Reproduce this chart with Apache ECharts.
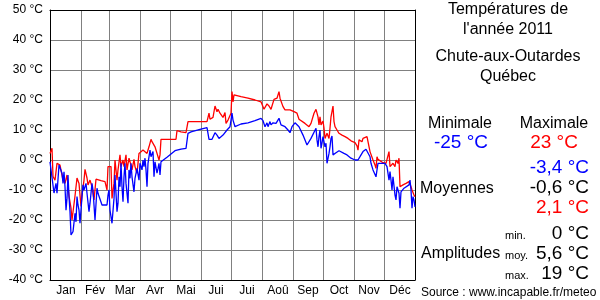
<!DOCTYPE html>
<html><head><meta charset="utf-8">
<script src="https://cdn.jsdelivr.net/npm/echarts@6/dist/echarts.min.js"></script>
<style>html,body{margin:0;padding:0;background:#fff}#c{width:600px;height:300px}</style>
</head><body><div id="c"></div>
<script>
// Month labels and month boundaries (day of year)
const months = ['Jan','Fév','Mar','Avr','Mai','Jui','Jui','Aoû','Sep','Oct','Nov','Déc'];
const monthStarts = [0,31,59,90,120,151,181,212,243,273,304,334,365];

// Daily maximum temperatures [day of year, °C] (gaps are joined)
const tmax = [[0,2.2],[2,3.9],[3,-5.5],[5,-6.7],[7,-1.1],[10,-1.7],[11,-2.2],[13,-6.7],[15,-7.8],[17,-5],[19,-12],[21,-16],[22,-20],[24,-20],[25,-12],[27,-6],[29,-7.8],[31,-15.5],[32,-11.7],[34,-6.7],[35,-3.1],[37,-6],[38,-8.3],[40,-6.7],[42,-8.9],[44,-13.3],[46,-6.4],[48,-6.7],[51,-6.9],[55,-7.2],[57,-10],[58,-2.2],[61,-2.2],[62,-12.8],[64,-7.8],[65,0],[67,-6.7],[68,-3.3],[70,1.7],[71,-2.2],[73,0],[74,-2.2],[76,1.7],[77,-3.3],[79,0.6],[81,-1.7],[82,-3.3],[84,0.2],[85,-2.2],[87,-4.4],[89,2.2],[90,2.8],[91,1.7],[93,3.3],[94,2.8],[95,3.9],[97,2.2],[99,4.4],[101,6.9],[102,6.1],[103,6.7],[105,4.4],[106,3.9],[107,2.2],[109,0],[110,1.7],[111,6.9],[126,6.9],[127,9.8],[131,9.4],[136,9.1],[137,9.4],[138,12.8],[157,12.8],[159,15.6],[160,13.6],[162,13.9],[163,14.2],[165,18],[167,16.1],[168,16.9],[170,15.6],[171,15.8],[173,14.2],[175,15.8],[176,12.2],[178,13.3],[180,13.1],[181,15.6],[182,22.8],[183,19.4],[184,21.7],[185,21.7],[191,21.1],[198,20.6],[205,20],[211,19.4],[213,18.9],[214,16.9],[216,16.9],[217,18.7],[219,18],[221,16.9],[222,16.7],[224,20.2],[225,20.6],[227,20.6],[228,21.7],[229,22.8],[230,20.6],[232,20],[233,17.8],[235,16.7],[237,16.3],[240,16.7],[241,16.1],[244,16.1],[246,15.6],[247,15.6],[249,13.6],[251,13.3],[255,12.2],[259,11.1],[261,12.2],[264,15.6],[266,16.9],[268,14.4],[269,11.7],[270,14.4],[271,11.7],[273,13],[274,10.6],[275,7.2],[277,8.9],[279,7.2],[280,10.6],[281,14.4],[283,18],[284,12.8],[285,11.1],[287,10],[289,8.9],[291,9.1],[292,8.3],[295,7.8],[298,7.2],[301,6.4],[305,5.8],[307,4.7],[308,3.3],[309,6.7],[311,6.9],[312,6.1],[313,7.2],[315,6.9],[317,7.8],[318,6.1],[320,2.8],[321,2.2],[323,0],[325,-1.7],[326,-2.8],[327,1.1],[328,0.2],[330,0],[333,-0.9],[336,-1.1],[337,-0.6],[339,2.8],[340,-2.2],[341,-2.8],[343,-1.1],[345,-2.2],[346,0],[348,-1.1],[349,0.6],[350,-8.9],[353,-8.3],[356,-7.8],[359,-7.2],[360,-6.7],[361,-8.9],[362,-10],[364,-11.7],[365,-12.2]];

// Daily minimum temperatures [day of year, °C]
const tmin = [[0,-0.6],[2,0],[4,-11],[6,-7.8],[7,-11.1],[9,-1.7],[10,-2.2],[12,-4.4],[13,-7.8],[14,-3.9],[15,-8.9],[16,-16.7],[17,-12.8],[18,-5],[19,-12.2],[20,-17.2],[21,-25],[23,-23.9],[24,-23.9],[25,-17.8],[26,-20.6],[27,-12.2],[28,-15],[29,-16.7],[30,-21.1],[32,-12.2],[33,-8.3],[34,-10],[36,-7.8],[37,-11.1],[39,-17.2],[40,-14.4],[42,-7.8],[43,-10],[45,-20],[47,-9.4],[48,-11.1],[52,-15],[53,-14.4],[57,-15],[58,-11.7],[59,-10],[60,-16.7],[62,-21.1],[63,-20.6],[64,-12.8],[65,-5],[67,-17.2],[68,-14.4],[69,-5.6],[70,-8.9],[71,-1.1],[72,-8.9],[73,-13.9],[74,-5.6],[75,-1.1],[76,-7.8],[78,-14.4],[79,-3.3],[80,-6.1],[81,-1.1],[82,-5.6],[84,-10.6],[85,-6.1],[87,-2.8],[88,-2.2],[89,-6.7],[90,-1.1],[92,-3.3],[93,0],[94,-2.2],[95,0.6],[96,-3.3],[97,-8.9],[98,-1.1],[100,3.3],[101,1.1],[103,2.8],[104,-5.6],[105,-0.6],[107,-4.4],[108,-2.8],[109,-1.1],[110,-5],[111,-0.6],[117,0.9],[121,2],[125,3.1],[131,3.6],[136,3.9],[138,8.9],[141,9.4],[150,10.2],[157,10.8],[158,11.1],[159,6.9],[162,6.9],[165,9.1],[167,8.3],[169,7.2],[171,7.5],[173,8.3],[175,8.6],[177,10],[180,11.1],[181,13.3],[182,15.6],[183,13.3],[185,11.1],[191,12],[198,12.4],[205,13.1],[211,13.9],[213,13.1],[215,11.1],[217,12.4],[218,11.1],[220,12.8],[221,11.7],[223,12.4],[225,12.4],[226,12.2],[229,13.9],[231,11.7],[235,11.1],[238,10],[240,9.1],[242,11.1],[245,12.4],[246,12.4],[249,11.1],[253,8.3],[257,5],[261,7.2],[266,10.6],[267,6.7],[268,4.4],[269,7.8],[270,10],[271,3.9],[272,5.6],[273,7.8],[275,4.4],[276,5.6],[277,-1.1],[279,2.2],[280,4.4],[281,7.2],[282,8],[283,1.7],[285,2.2],[286,2.4],[289,3.1],[291,2.8],[294,2.2],[297,1.7],[301,0.6],[305,0],[307,-0.6],[308,0],[310,1.1],[313,2.8],[316,3.6],[318,3.3],[320,1.1],[321,-1.1],[322,-1.7],[323,-3.3],[325,-3.9],[326,-5.6],[327,-3.3],[328,-1.1],[331,-1.1],[335,-1.1],[337,-2.2],[339,-6.7],[340,-3.9],[341,-6.7],[342,-10],[343,-5.6],[344,-5],[345,-11.7],[346,-13.3],[347,-8.9],[349,-11.1],[350,-16.1],[351,-10.6],[352,-10],[354,-9.4],[356,-8.9],[359,-8.3],[360,-6.7],[361,-10],[362,-16.1],[363,-12.2],[364,-13.3],[365,-15.6]];

// Summary texts
const titleLines = ['Températures de', "l'année 2011"];
const placeLines = ['Chute-aux-Outardes', 'Québec'];
const extremes = {min: '-25 °C', max: '23 °C'};
const means = ['-3,4 °C', '-0,6 °C', '2,1 °C'];
const amplitudes = [['min.', '0 °C'], ['moy.', '5,6 °C'], ['max.', '19 °C']];
const source = 'Source : www.incapable.fr/meteo';

const FONT = '"Liberation Sans", Arial, sans-serif';
const BLUE = '#0000ff', RED = '#ff0000';

// category data: one entry per day boundary, month name at mid-month
const dayCats = [];
for (let i = 0; i <= 365; i++) dayCats.push('');
for (let m = 0; m < 12; m++) dayCats[Math.round((monthStarts[m] + monthStarts[m + 1]) / 2)] = months[m];
const innerStarts = monthStarts.slice(1, -1);

function txt(x, y, text, size, color, align) {
  return {type: 'text', x: x, y: y, silent: true,
    style: {text: text, fontSize: size, fontFamily: FONT, fill: color || '#000',
      textAlign: align || 'center', textVerticalAlign: 'middle'}};
}

const graphics = [
  txt(508, 10, titleLines[0], 16), txt(508, 30, titleLines[1], 16),
  txt(508, 57, placeLines[0], 16), txt(508, 77, placeLines[1], 16),
  txt(460, 124, 'Minimale', 16), txt(554, 124, 'Maximale', 16),
  txt(461, 143, extremes.min, 19, BLUE), txt(554, 143, extremes.max, 19, RED),
  txt(420, 189, 'Moyennes', 16, '#000', 'left'),
  txt(589, 168, means[0], 19, BLUE, 'right'),
  txt(589, 188, means[1], 19, '#000', 'right'),
  txt(589, 208, means[2], 19, RED, 'right'),
  txt(421, 254, 'Amplitudes', 16, '#000', 'left'),
  txt(505, 236, amplitudes[0][0], 11, '#000', 'left'), txt(589, 234, amplitudes[0][1], 19, '#000', 'right'),
  txt(505, 256, amplitudes[1][0], 11, '#000', 'left'), txt(589, 254, amplitudes[1][1], 19, '#000', 'right'),
  txt(505, 276, amplitudes[2][0], 11, '#000', 'left'), txt(589, 274, amplitudes[2][1], 19, '#000', 'right'),
  txt(421, 293, source, 12, '#000', 'left')
];

const chart = echarts.init(document.getElementById('c'), null, {renderer: 'canvas'});
chart.setOption({
  animation: false,
  backgroundColor: '#fff',
  grid: {left: 50, right: 185, top: 10, bottom: 20, containLabel: false},
  xAxis: [
    {type: 'value', min: 0, max: 365, position: 'top',
      axisLine: {show: true, onZero: false, lineStyle: {color: '#000', width: 1}},
      axisTick: {show: false}, axisLabel: {show: false}, splitLine: {show: false}},
    {type: 'category', data: dayCats, boundaryGap: false, position: 'bottom',
      axisLine: {show: true, onZero: false, lineStyle: {color: '#000', width: 1}},
      axisTick: {show: false},
      axisLabel: {interval: function (i, v) { return v !== ''; }, color: '#000', fontSize: 12, fontFamily: FONT, margin: 5},
      splitLine: {show: true, interval: function (i) { return innerStarts.indexOf(i) >= 0; },
        lineStyle: {color: '#808080', width: 1}}}
  ],
  yAxis: [
    {type: 'value', min: -40, max: 50, interval: 10,
      axisLine: {show: true, lineStyle: {color: '#000', width: 1}},
      axisTick: {show: false},
      axisLabel: {formatter: '{value} °C', color: '#000', fontSize: 12, fontFamily: FONT, margin: 7},
      splitLine: {show: true, showMinLine: false, showMaxLine: false, lineStyle: {color: '#808080', width: 1}}},
    {type: 'value', min: -40, max: 50, interval: 10, position: 'right',
      axisLine: {show: true, lineStyle: {color: '#000', width: 1}},
      axisTick: {show: false}, axisLabel: {show: false}, splitLine: {show: false}}
  ],
  series: [
    {type: 'line', name: 'max', xAxisIndex: 0, yAxisIndex: 0, data: tmax, showSymbol: false,
      lineStyle: {color: RED, width: 1.3}, itemStyle: {color: RED}, z: 3},
    {type: 'line', name: 'min', xAxisIndex: 0, yAxisIndex: 0, data: tmin, showSymbol: false,
      lineStyle: {color: BLUE, width: 1.3}, itemStyle: {color: BLUE}, z: 4}
  ],
  graphic: graphics
});
</script></body></html>
